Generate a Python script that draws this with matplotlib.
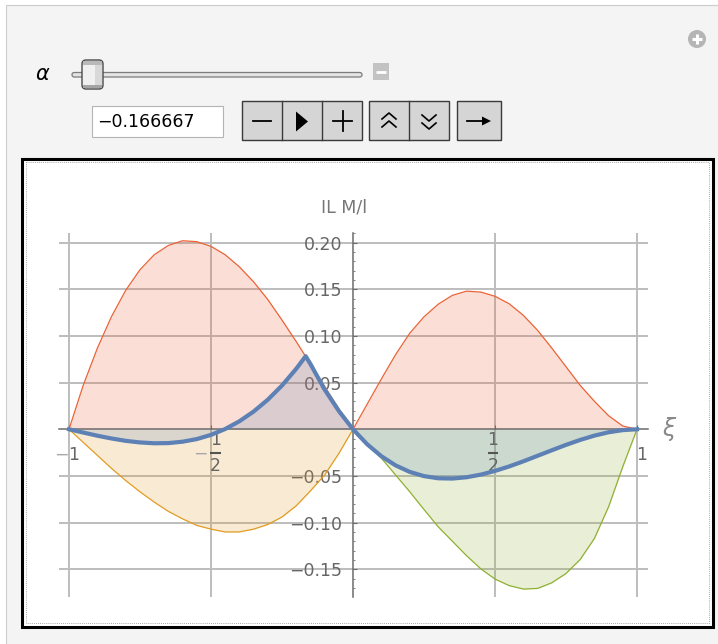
"""
Manipulate-style panel: influence line of M at section alpha plus max/min envelopes.
"""
import matplotlib
matplotlib.use("Agg")
matplotlib.rcParams["axes.unicode_minus"] = True
import matplotlib.pyplot as plt
from matplotlib.patches import Rectangle, FancyBboxPatch, Circle, Polygon
from matplotlib.ticker import MultipleLocator
from matplotlib.transforms import offset_copy

# ---- values ----
alpha = -0.166667

xi_left = [-1.00, -0.95, -0.90, -0.85, -0.80, -0.75, -0.70, -0.65, -0.60, -0.55,
           -0.50, -0.45, -0.40, -0.35, -0.30, -0.25, -0.20, -0.15, -0.10, -0.05, 0.00]
il_max_left = [0.000, 0.047, 0.087, 0.121, 0.149, 0.171, 0.187, 0.197, 0.202, 0.201,
               0.196, 0.187, 0.174, 0.158, 0.139, 0.117, 0.094, 0.070, 0.046, 0.022, 0.000]
il_min_left = [0.000, -0.014, -0.028, -0.042, -0.055, -0.067, -0.078, -0.088, -0.096, -0.103,
               -0.107, -0.110, -0.110, -0.107, -0.102, -0.094, -0.082, -0.066, -0.049, -0.026, 0.000]

xi_right = [0.00, 0.05, 0.10, 0.15, 0.20, 0.25, 0.30, 0.35, 0.40, 0.45,
            0.50, 0.55, 0.60, 0.65, 0.70, 0.75, 0.80, 0.85, 0.90, 0.95, 1.00]
il_max_right = [0.000, 0.027, 0.054, 0.080, 0.103, 0.1205, 0.134, 0.1435, 0.148, 0.147,
                0.1425, 0.1345, 0.122, 0.106, 0.087, 0.067, 0.047, 0.030, 0.0145, 0.0035, 0.000]
il_min_right = [0.000, -0.016, -0.031, -0.049, -0.067, -0.086, -0.1045, -0.120, -0.1355, -0.1495,
                -0.1605, -0.1675, -0.1712, -0.1705, -0.1645, -0.1545, -0.1395, -0.117, -0.083, -0.040, 0.000]

# IL of M at xi = alpha (kink at alpha)
xi_alpha = [-1.00, -0.95, -0.90, -0.85, -0.80, -0.75, -0.70, -0.65, -0.60, -0.55,
            -0.50, -0.45, -0.40, -0.35, -0.30, -0.25, -0.20, -0.1667, -0.15, -0.10, -0.05,
            0.00, 0.05, 0.10, 0.15, 0.20, 0.25, 0.30, 0.35, 0.40, 0.45,
            0.50, 0.55, 0.60, 0.65, 0.70, 0.75, 0.80, 0.85, 0.90, 0.95, 1.00]
il_alpha = [0.000, -0.0035, -0.0069, -0.0099, -0.0124, -0.0141, -0.0150, -0.0148, -0.0133, -0.0105,
            -0.0060, 0.0003, 0.0086, 0.0190, 0.0317, 0.0469, 0.0648, 0.0783, 0.0700, 0.0426, 0.0196,
            0.000, -0.0161, -0.0289, -0.0387, -0.0457, -0.0502, -0.0525, -0.0528, -0.0514, -0.0486,
            -0.0446, -0.0398, -0.0343, -0.0284, -0.0225, -0.0167, -0.0114, -0.0068, -0.0032, -0.0009, 0.000]

x_ticks = [-1.0, -0.5, 0.5, 1.0]
y_ticks = [-0.15, -0.10, -0.05, 0.05, 0.10, 0.15, 0.20]

BLUE = "#5E81B5"
ORANGE = "#E19C24"
GREEN = "#8FB032"
RED = "#EB6235"
TXT = "#666666"
MINUS = "#a8a8a8"

fig = plt.figure(figsize=(7.18, 6.44), dpi=100)
fig.patch.set_facecolor("white")

# ---- control panel drawn in pixel coordinates ----
ui = fig.add_axes([0, 0, 1, 1], zorder=0)
ui.set_xlim(0, 718)
ui.set_ylim(644, 0)
ui.axis("off")

ui.add_patch(Rectangle((6, 5), 720, 650, fc="#f4f4f4", ec="#cccccc", lw=0.8))

# plus icon
ui.add_patch(Circle((697, 39), 9, fc="#b5b5b5", ec="none"))
ui.plot([692, 702], [39, 39], color="white", lw=2.2, solid_capstyle="butt")
ui.plot([697, 697], [34, 44], color="white", lw=2.2, solid_capstyle="butt")

# slider
ui.text(43, 74, r"$\alpha$", fontsize=15, ha="center", va="center", color="black")
ui.add_patch(FancyBboxPatch((72, 72.5), 290, 4.5, boxstyle="round,pad=0,rounding_size=2.2",
                            fc="#e4e4e4", ec="#7c7c7c", lw=0.9))
ui.add_patch(FancyBboxPatch((82, 60), 21, 29, boxstyle="round,pad=0,rounding_size=4",
                            fc="#f0f0f0", ec="#4a4a4a", lw=1.0))
ui.add_patch(Rectangle((83, 61), 19, 4, fc="#b9b9b9", ec="none"))
ui.add_patch(Rectangle((83, 84.5), 19, 3.5, fc="#a4a4a4", ec="none"))
ui.add_patch(Rectangle((95, 65), 7, 19.5, fc="#d8d8d8", ec="none"))
ui.add_patch(Rectangle((373, 63), 16, 17, fc="#c3c3c3", ec="none"))
ui.plot([376, 386], [71.5, 71.5], color="white", lw=2.0, solid_capstyle="butt")

# value box
ui.add_patch(Rectangle((92, 106), 131, 31, fc="white", ec="#b4b4b4", lw=0.8))
ui.text(97, 122, f"{alpha:.6f}".replace("-", "\u2212"), fontsize=12.5, ha="left", va="center",
        color="black")

# buttons
for x0, x1, divs in [(242, 362, [282, 322]), (369, 449, [409]), (457, 501, [])]:
    ui.add_patch(Rectangle((x0, 101), x1 - x0, 39, fc="#d5d5d5", ec="#3a3a3a", lw=1.0))
    for d in divs:
        ui.plot([d, d], [101, 140], color="#3a3a3a", lw=1.0)
ui.plot([253, 271], [121, 121], color="black", lw=1.3)
ui.add_patch(Polygon([(296, 111.5), (296, 131.5), (308, 121.5)], closed=True, fc="black", ec="none"))
ui.plot([333, 352], [121, 121], color="black", lw=1.3)
ui.plot([342.5, 342.5], [111, 131], color="black", lw=1.3)
for dy in (0, 8):
    ui.plot([382, 389, 396], [119 + dy, 113 + dy, 119 + dy], color="black", lw=1.2)
    ui.plot([422, 429, 436], [115 + dy, 121 + dy, 115 + dy], color="black", lw=1.2)
ui.plot([467, 488], [121, 121], color="black", lw=1.3)
ui.add_patch(Polygon([(482, 116.5), (491, 121), (482, 125.5)], closed=True, fc="black", ec="none"))

# graphics frame
ui.add_patch(Rectangle((22, 158.5), 690.5, 468, fc="white", ec="black", lw=2.2))
ui.add_patch(Rectangle((25.5, 162), 683.5, 461, fill=False, ec="#8a8a8a", lw=0.6, ls=(0, (1, 1.5))))

# ---- plot ----
ax = fig.add_axes([59 / 718, 1 - 597 / 644, 589 / 718, 364 / 644], zorder=1)
ax.set_facecolor("none")
ax.set_xlim(-1.0352, 1.0387)
ax.set_ylim(-0.1797, 0.2103)

ax.fill_between(xi_left, il_max_left, 0, color=RED, alpha=0.2, lw=0, zorder=2)
ax.fill_between(xi_right, il_max_right, 0, color=RED, alpha=0.2, lw=0, zorder=2)
ax.fill_between(xi_left, il_min_left, 0, color=ORANGE, alpha=0.2, lw=0, zorder=2)
ax.fill_between(xi_right, il_min_right, 0, color=GREEN, alpha=0.2, lw=0, zorder=2)
ax.fill_between(xi_alpha, il_alpha, 0, color=BLUE, alpha=0.2, lw=0, zorder=2)

ax.plot(xi_left, il_max_left, color=RED, lw=0.9, zorder=3)
ax.plot(xi_right, il_max_right, color=RED, lw=0.9, zorder=3)
ax.plot(xi_left, il_min_left, color=ORANGE, lw=0.9, zorder=3)
ax.plot(xi_right, il_min_right, color=GREEN, lw=0.9, zorder=3)
ax.plot(xi_alpha, il_alpha, color=BLUE, lw=3.0, zorder=4)

for side in ("top", "right"):
    ax.spines[side].set_visible(False)
ax.spines["left"].set_position(("data", 0))
ax.spines["bottom"].set_position(("data", 0))
for side in ("left", "bottom"):
    ax.spines[side].set_color("#6b6b6b")
    ax.spines[side].set_linewidth(1.1)
    ax.spines[side].set_zorder(3.5)

ax.set_xticks(x_ticks)
ax.tick_params(axis="x", which="major", direction="in", length=3, width=0.8, color="#6b6b6b",
               labelbottom=False)
ax.set_yticks(y_ticks, labels=[f"{v:.2f}".replace("-", "\u2212") for v in y_ticks])
ax.yaxis.set_minor_locator(MultipleLocator(0.01))
ax.tick_params(axis="y", which="major", direction="in", length=3, width=0.8, color="#6b6b6b",
               pad=7.5, labelsize=12.5, labelcolor=TXT)
ax.tick_params(axis="y", which="minor", direction="in", length=1.6, width=0.6, color="#6b6b6b")
ax.grid(True, which="major", color="#bdbdbd", lw=1.4)
ax.set_axisbelow(True)


def label_at(xv, dx, dy, s, color=TXT, size=12.5):
    ax.annotate(s, xy=(xv, 0), xytext=(dx, dy), textcoords="offset points",
                ha="center", va="center", fontsize=size, color=color)


# x tick labels: integers and stacked fractions (Mathematica style)
for xv in x_ticks:
    if abs(xv) == 1.0:
        label_at(xv, 3.2, -18.5, "1")
        if xv < 0:
            label_at(xv, -5.5, -18.5, "\u2212", color=MINUS)
    else:
        cx = 3.4 if xv < 0 else -1.5
        label_at(xv, cx, -8.0, "1")
        label_at(xv, cx, -26.5, "2")
        bar = offset_copy(ax.transData, fig=fig, x=cx, y=-17.2, units="points")
        ax.plot([xv - 0.019, xv + 0.019], [0, 0], color="#555555", lw=1.5,
                solid_capstyle="butt", transform=bar, clip_on=False, zorder=5)
        if xv < 0:
            label_at(xv, -8.0, -17.5, "\u2212", color=MINUS)

ax.text(-0.03, 0.238, "IL M/l", ha="center", va="center", fontsize=12.5, color="#777777")
ax.text(1.116, 0, r"$\xi$", ha="center", va="center", fontsize=17, color="#888888")

fig.savefig("out.png", dpi=100)
